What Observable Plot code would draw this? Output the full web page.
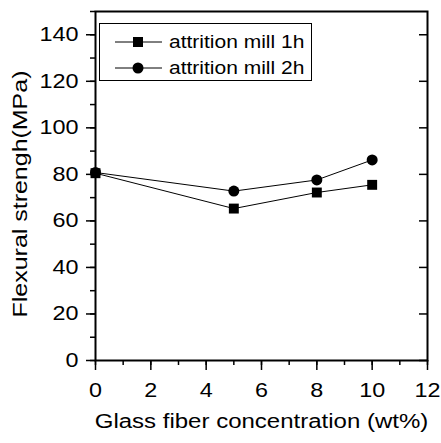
<!DOCTYPE html>
<html><head><meta charset="utf-8">
<script src="https://cdn.jsdelivr.net/npm/d3@7"></script>
<script src="https://cdn.jsdelivr.net/npm/@observablehq/plot@0.6"></script>
<style>
body{margin:0;background:#fff;font-family:"Liberation Sans",Arial,sans-serif;}
#wrap{position:relative;width:441px;height:443px;}
#legend{position:absolute;left:99px;top:23px;width:213px;height:58px;border:1px solid #000;background:#fff;box-sizing:border-box;}
</style>
</head><body>
<div id="wrap"><div id="legend"></div></div>
<script>
const concentration = [0, 5, 8, 10];
const mill1h = [80.5, 65.3, 72.2, 75.5];
const mill2h = [80.8, 72.8, 77.6, 86.2];
const seriesNames = ["attrition mill 1h", "attrition mill 2h"];
const xTicks = [0, 2, 4, 6, 8, 10, 12];
const yTicks = [0, 20, 40, 60, 80, 100, 120, 140];
const xTitle = "Glass fiber concentration (wt%)";
const yTitle = "Flexural strengh(MPa)";

const rows = [];
concentration.forEach((c, i) => {
  rows.push({x: c, y: mill1h[i], s: seriesNames[0]});
  rows.push({x: c, y: mill2h[i], s: seriesNames[1]});
});
const s1 = rows.filter(d => d.s === seriesNames[0]);
const s2 = rows.filter(d => d.s === seriesNames[1]);

const FONT = '"Liberation Sans", Arial, sans-serif';
const chart = Plot.plot({
  width: 441, height: 443,
  marginLeft: 95, marginRight: 14, marginTop: 11, marginBottom: 83,
  style: {fontFamily: FONT, fontSize: "19.5px", color: "#000", background: "#fff"},
  x: {domain: [0, 12]},
  y: {domain: [0, 150]},
  marks: [
    Plot.axisY({ticks: d3.range(0, 151, 10), tickSize: 5, tickFormat: () => "", strokeWidth: 1.5, label: null}),
    Plot.axisY({ticks: yTicks, tickSize: 9, tickPadding: 8, strokeWidth: 1.5, fontSize: 19.5, label: null}),
    Plot.axisY({anchor: "right", ticks: yTicks, tickSize: -9, tickFormat: () => "", strokeWidth: 1.5, label: null}),
    Plot.axisX({ticks: d3.range(0, 12.01, 1), tickSize: 5, tickFormat: () => "", strokeWidth: 1.5, label: null}),
    Plot.axisX({ticks: xTicks, tickSize: 10, tickPadding: 13, strokeWidth: 1.5, fontSize: 19.5, label: null}),
    Plot.frame({stroke: "#000", strokeWidth: 2}),
    Plot.line(s1, {x: "x", y: "y", stroke: "#000", strokeWidth: 1}),
    Plot.line(s2, {x: "x", y: "y", stroke: "#000", strokeWidth: 1}),
    Plot.dot(s1, {x: "x", y: "y", symbol: "square", r: 5.6, fill: "#000"}),
    Plot.dot(s2, {x: "x", y: "y", symbol: "circle", r: 5.5, fill: "#000"}),
    Plot.text([xTitle], {frameAnchor: "bottom", dy: 67, fontSize: 20, fill: "#000"}),
    Plot.text([yTitle], {frameAnchor: "left", textAnchor: "middle", dx: -75, dy: 8, rotate: -90, fontSize: 20.8, fill: "#000"})
  ]
});
document.getElementById("wrap").prepend(chart);
chart.style.position = "absolute"; chart.style.left = "0"; chart.style.top = "0";

const leg = d3.select("#legend").append("svg").attr("width", 211).attr("height", 56);
seriesNames.forEach((name, i) => {
  const y = 18 + i * 26;
  leg.append("line").attr("x1", 15).attr("x2", 62).attr("y1", y).attr("y2", y).attr("stroke", "#000");
  if (i === 0) leg.append("rect").attr("x", 33).attr("y", y - 5).attr("width", 10).attr("height", 10).attr("fill", "#000");
  else leg.append("circle").attr("cx", 38).attr("cy", y).attr("r", 5.5).attr("fill", "#000");
  leg.append("text").attr("x", 69).attr("y", y).attr("dy", "0.35em").attr("font-size", 17.5).attr("font-family", FONT).text(name);
});

// the reference typeface is a horizontally widened Arial: widen every text by 1.2
document.querySelectorAll("#wrap svg text").forEach(t => {
  const len = t.getComputedTextLength();
  if (len > 0) {
    t.setAttribute("textLength", (len * 1.2).toFixed(1));
    t.setAttribute("lengthAdjust", "spacingAndGlyphs");
  }
});
</script>
</body></html>
